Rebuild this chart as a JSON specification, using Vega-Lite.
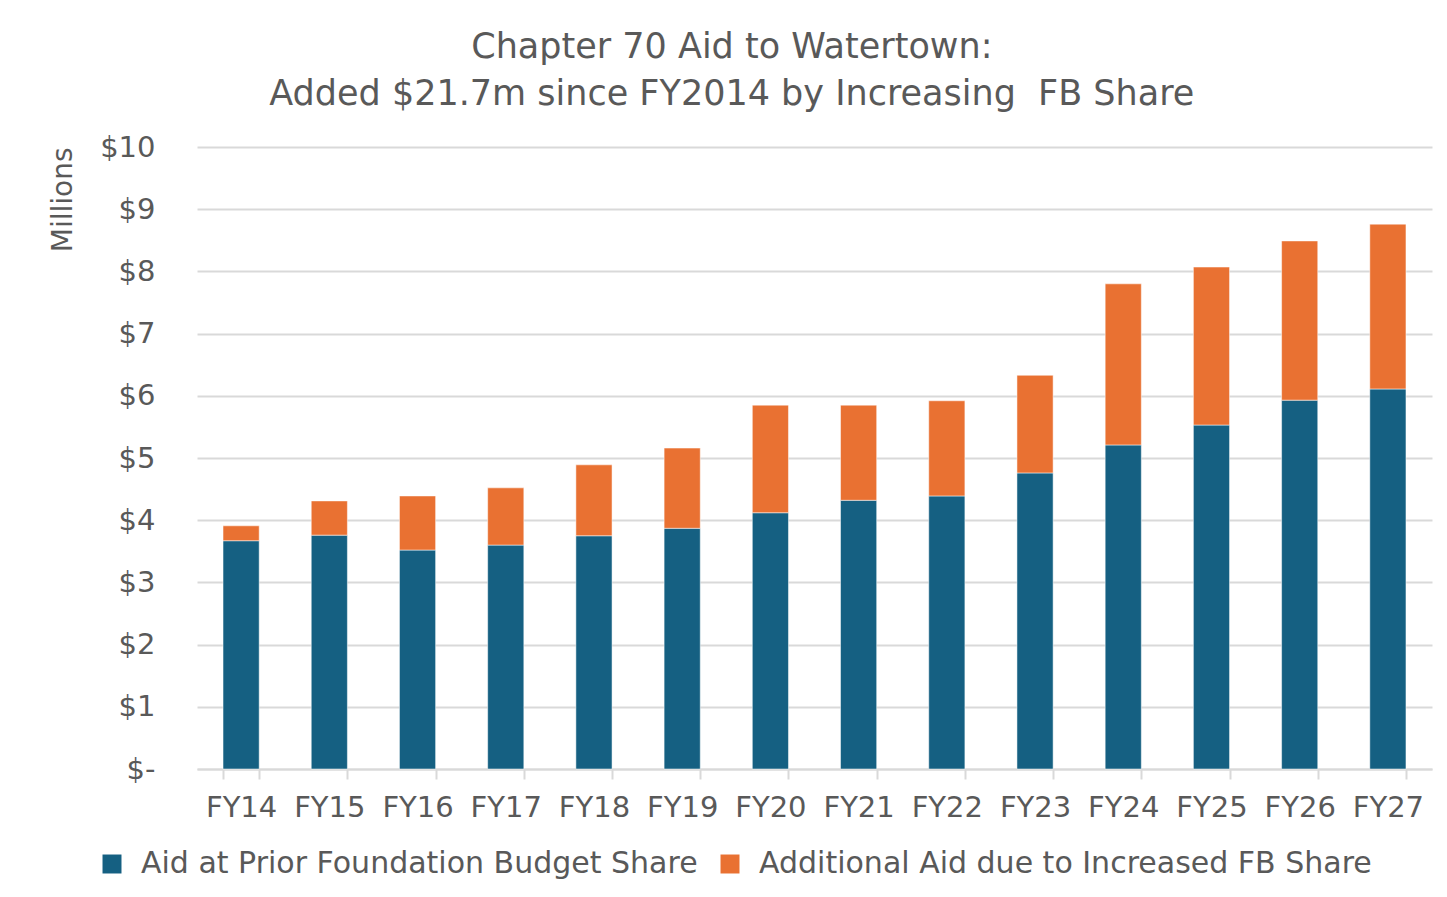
{
  "$schema": "https://vega.github.io/schema/vega-lite/v6.json",
  "autosize": "none",
  "width": 1235,
  "height": 622,
  "padding": {"left": 197, "top": 147, "right": 15, "bottom": 128},
  "background": "#ffffff",
  "title": {
    "text": ["Chapter 70 Aid to Watertown:", "Added $21.7m since FY2014 by Increasing\u00a0 FB Share"],
    "font": "DejaVu Sans",
    "fontSize": 35,
    "fontWeight": "normal",
    "color": "#595959",
    "anchor": "middle",
    "frame": "bounds",
    "lineHeight": 47,
    "offset": 21,
    "dx": -9
  },
  "data": {
    "values": [
      {"year": "FY14", "series": "Aid at Prior Foundation Budget Share", "o": 1, "value": 3.67},
      {"year": "FY14", "series": "Additional Aid due to Increased FB Share", "o": 2, "value": 0.24},
      {"year": "FY15", "series": "Aid at Prior Foundation Budget Share", "o": 1, "value": 3.76},
      {"year": "FY15", "series": "Additional Aid due to Increased FB Share", "o": 2, "value": 0.55},
      {"year": "FY16", "series": "Aid at Prior Foundation Budget Share", "o": 1, "value": 3.52},
      {"year": "FY16", "series": "Additional Aid due to Increased FB Share", "o": 2, "value": 0.87},
      {"year": "FY17", "series": "Aid at Prior Foundation Budget Share", "o": 1, "value": 3.60},
      {"year": "FY17", "series": "Additional Aid due to Increased FB Share", "o": 2, "value": 0.92},
      {"year": "FY18", "series": "Aid at Prior Foundation Budget Share", "o": 1, "value": 3.75},
      {"year": "FY18", "series": "Additional Aid due to Increased FB Share", "o": 2, "value": 1.14},
      {"year": "FY19", "series": "Aid at Prior Foundation Budget Share", "o": 1, "value": 3.87},
      {"year": "FY19", "series": "Additional Aid due to Increased FB Share", "o": 2, "value": 1.29},
      {"year": "FY20", "series": "Aid at Prior Foundation Budget Share", "o": 1, "value": 4.12},
      {"year": "FY20", "series": "Additional Aid due to Increased FB Share", "o": 2, "value": 1.73},
      {"year": "FY21", "series": "Aid at Prior Foundation Budget Share", "o": 1, "value": 4.32},
      {"year": "FY21", "series": "Additional Aid due to Increased FB Share", "o": 2, "value": 1.53},
      {"year": "FY22", "series": "Aid at Prior Foundation Budget Share", "o": 1, "value": 4.39},
      {"year": "FY22", "series": "Additional Aid due to Increased FB Share", "o": 2, "value": 1.53},
      {"year": "FY23", "series": "Aid at Prior Foundation Budget Share", "o": 1, "value": 4.76},
      {"year": "FY23", "series": "Additional Aid due to Increased FB Share", "o": 2, "value": 1.57},
      {"year": "FY24", "series": "Aid at Prior Foundation Budget Share", "o": 1, "value": 5.21},
      {"year": "FY24", "series": "Additional Aid due to Increased FB Share", "o": 2, "value": 2.59},
      {"year": "FY25", "series": "Aid at Prior Foundation Budget Share", "o": 1, "value": 5.53},
      {"year": "FY25", "series": "Additional Aid due to Increased FB Share", "o": 2, "value": 2.54},
      {"year": "FY26", "series": "Aid at Prior Foundation Budget Share", "o": 1, "value": 5.93},
      {"year": "FY26", "series": "Additional Aid due to Increased FB Share", "o": 2, "value": 2.56},
      {"year": "FY27", "series": "Aid at Prior Foundation Budget Share", "o": 1, "value": 6.11},
      {"year": "FY27", "series": "Additional Aid due to Increased FB Share", "o": 2, "value": 2.65}
    ]
  },
  "mark": {"type": "bar", "stroke": "#ffffff", "strokeWidth": 1, "strokeOpacity": 0.5},
  "encoding": {
    "x": {
      "field": "year",
      "type": "nominal",
      "sort": null,
      "scale": {"paddingInner": 0.59, "paddingOuter": 0.295},
      "axis": {
        "title": null,
        "labelAngle": 0,
        "labelFont": "DejaVu Sans",
        "labelFontSize": 29,
        "labelColor": "#595959",
        "labelPadding": 14,
        "domainColor": "#d9d9d9",
        "domainWidth": 2,
        "tickColor": "#d9d9d9",
        "tickWidth": 2,
        "tickSize": 10,
        "tickBand": "extent"
      }
    },
    "y": {
      "field": "value",
      "type": "quantitative",
      "stack": "zero",
      "scale": {"domain": [0, 10], "nice": false},
      "axis": {
        "title": "Millions",
        "titleFont": "DejaVu Sans",
        "titleFontSize": 28,
        "titleFontWeight": "normal",
        "titleColor": "#595959",
        "titleAnchor": "end",
        "titlePadding": 22,
        "values": [0, 1, 2, 3, 4, 5, 6, 7, 8, 9, 10],
        "labelExpr": "datum.value == 0 ? '$-' : '$' + datum.value",
        "labelFont": "DejaVu Sans",
        "labelFontSize": 29,
        "labelColor": "#595959",
        "labelPadding": 42,
        "domain": false,
        "ticks": false,
        "gridColor": "#d9d9d9",
        "gridWidth": 2
      }
    },
    "color": {
      "field": "series",
      "type": "nominal",
      "sort": ["Aid at Prior Foundation Budget Share", "Additional Aid due to Increased FB Share"],
      "scale": {
        "domain": ["Aid at Prior Foundation Budget Share", "Additional Aid due to Increased FB Share"],
        "range": ["#156082", "#e97132"]
      },
      "legend": {
        "title": null,
        "orient": "none",
        "direction": "horizontal",
        "legendX": -100,
        "legendY": 702,
        "symbolType": "square",
        "symbolSize": 360,
        "symbolStrokeWidth": 0,
        "labelFont": "DejaVu Sans",
        "labelFontSize": 30,
        "labelColor": "#595959",
        "labelLimit": 800,
        "columnPadding": 17,
        "labelOffset": 14
      }
    },
    "order": {"field": "o", "type": "quantitative"}
  },
  "config": {
    "view": {"stroke": null}
  }
}
